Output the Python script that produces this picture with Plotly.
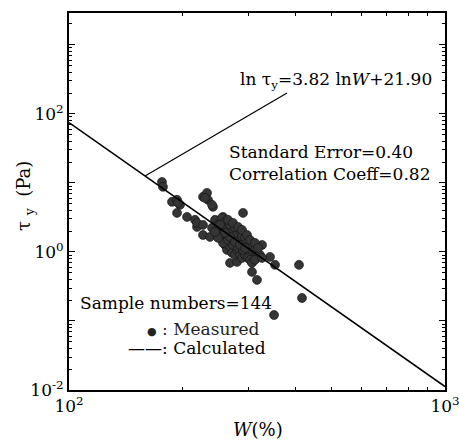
import plotly.graph_objects as go
import math

w_meas = [176.7, 177.8, 187.9, 193.8, 197.4, 193.8, 206, 216.3, 219, 195, 219,
          227.2, 232.8, 234.3, 230, 241.5, 240.1, 227.2, 237.1, 227.2, 256.8, 290.3,
          268.1, 279.8, 306.7, 316.2, 326.1, 342.4, 353.2, 409, 416.6, 351,
          244.5, 249, 252.1, 255.2, 260, 263.2, 264.8, 268.1, 271.4, 273.1, 276.4,
          279.8, 281.6, 285, 288.6, 290.3, 293.9, 297.5, 299.3, 303, 306.7, 312.4,
          316.2, 322.1, 255.2, 260, 263.2, 268.1, 271.4, 276.4, 279.8, 285, 288.6,
          293.9, 299.3, 303, 252.1, 256.8, 264.8, 273.1, 281.6, 290.3, 268.1, 276.4,
          285, 293.9, 260, 252.1, 249, 240.1, 244.5, 306.7, 312.4, 264.8, 273.1,
          281.6, 288.6, 297.5, 303, 312.4, 318.2, 326.1]
tau_meas = [10.3, 8.75, 5.31, 5.67, 4.80, 3.67, 3.21, 2.91, 2.30, 5.13, 2.63,
            6.27, 7.16, 5.67, 6.06, 4.49, 4.80, 1.76, 1.65, 2.46, 3.21, 3.67,
            0.693, 0.716, 0.513, 0.393, 1.26, 0.847, 0.649, 0.649, 0.215, 0.122,
            2.91, 2.46, 2.08, 3.11, 2.72, 2.23, 1.76, 2.46, 1.95, 1.49, 2.23,
            1.76, 1.40, 2.08, 1.65, 1.26, 1.60, 1.35, 1.07, 1.26, 0.968, 1.07,
            0.847, 0.906, 1.49, 1.26, 1.07, 1.18, 0.968, 0.906, 1.07, 0.906, 0.818,
            0.906, 0.818, 0.766, 1.76, 1.35, 1.49, 1.26, 1.14, 1.07, 1.65, 1.40,
            1.26, 1.14, 1.89, 2.46, 1.60, 2.23, 1.95, 0.693, 0.766, 2.91, 2.63,
            2.30, 2.08, 1.76, 1.49, 1.35, 1.14, 0.818]

# Calculated line: ln tau = -3.82 ln W + 21.90 (end points)
w_calc = [100, 1000]
tau_calc = [74.5, 0.0112]

x_tickvals = [100, 1000]
x_ticktext = ["10<sup>2</sup>", "10<sup>3</sup>"]
y_tickvals = [0.01, 1, 100]
y_ticktext = ["10<sup>-2</sup>", "10<sup>0</sup>", "10<sup>2</sup>"]
y_unlabeled = [0.1, 10, 1000]
x_minor = [200, 300, 400, 500, 600, 700, 800, 900]
y_minor = [m * 10 ** e for e in range(-2, 4) for m in range(2, 10) if m * 10 ** e < 2800]

FONT = "DejaVu Serif"
X_RANGE = [2, 3]
Y_RANGE = [-2, 3.46]

fig = go.Figure()
fig.add_trace(go.Scatter(x=w_meas, y=tau_meas, mode="markers", name="Measured",
                         marker=dict(size=9, color="#353535",
                                     line=dict(color="#111111", width=0.6)),
                         showlegend=False))
fig.add_trace(go.Scatter(x=w_calc, y=tau_calc, mode="lines", name="Calculated",
                         line=dict(color="black", width=1.6), showlegend=False))
# carriers for the extra tick axes
for xa, ya in (("x2", "y2"), ("x2", "y3")):
    fig.add_trace(go.Scatter(x=w_calc[:1], y=tau_calc[:1], xaxis=xa, yaxis=ya,
                             mode="markers", marker=dict(opacity=0), hoverinfo="skip",
                             showlegend=False))

axis_common = dict(showline=True, linecolor="black", linewidth=2, mirror="ticks",
                   ticks="inside", ticklen=6, tickcolor="black", tickwidth=1.2,
                   showgrid=False, zeroline=False, ticklabeloverflow="allow",
                   automargin=False,
                   tickfont=dict(family=FONT, size=17, color="black"))
minor_common = dict(showticklabels=False, ticks="inside", ticklen=3, tickcolor="black",
                    showline=True, linecolor="black", linewidth=2, mirror="ticks",
                    showgrid=False, zeroline=False, automargin=False)

fig.update_layout(
    xaxis=dict(type="log", range=X_RANGE, tickvals=x_tickvals, ticktext=x_ticktext,
               **axis_common),
    yaxis=dict(type="log", range=Y_RANGE, tickvals=y_tickvals, ticktext=y_ticktext,
               **axis_common),
    xaxis2=dict(type="log", range=X_RANGE, overlaying="x", tickvals=x_minor, **minor_common),
    yaxis2=dict(type="log", range=Y_RANGE, overlaying="y", tickvals=y_minor, **minor_common),
    yaxis3=dict(type="log", range=Y_RANGE, overlaying="y", tickvals=y_unlabeled,
                **{**minor_common, "ticklen": 6, "tickwidth": 1.2}),
)

# axis titles
fig.add_annotation(xref="paper", yref="paper", x=(258 - 69) / 376, y=(390 - 430) / 377,
                   xanchor="center", yanchor="middle", showarrow=False,
                   text="<i>W</i>(%)", font=dict(family=FONT, size=18, color="black"))
fig.add_annotation(xref="paper", yref="paper", x=(25 - 69) / 376, y=(390 - 196) / 377,
                   xanchor="center", yanchor="middle", showarrow=False, textangle=-90,
                   text="τ <sub>y</sub>  (Pa)", font=dict(family=FONT, size=18, color="black"))

# callout leader line (from the fitted line up to the equation)
wx = 159.3
ty = math.exp(21.90 - 3.82 * math.log(wx))
px0 = (math.log10(wx) - X_RANGE[0]) / (X_RANGE[1] - X_RANGE[0])
py0 = (math.log10(ty) - Y_RANGE[0]) / (Y_RANGE[1] - Y_RANGE[0])
fig.add_shape(type="line", xref="paper", yref="paper", x0=px0, y0=py0,
              x1=px0 + 142 / 376, y1=py0 + 83 / 377,
              line=dict(color="black", width=1.2))
fig.add_annotation(xref="paper", yref="paper", x=(434 - 69) / 376, y=(390 - 80) / 377,
                   xanchor="right", yanchor="middle", showarrow=False,
                   text="ln τ<sub>y</sub>=3.82 ln<i>W</i>+21.90",
                   font=dict(family=FONT, size=17, color="black"))
fig.add_annotation(xref="paper", yref="paper", x=(227 - 69) / 376, y=(390 - 163) / 377,
                   xanchor="left", yanchor="middle", showarrow=False, align="left",
                   text="Standard Error=0.40<br>Correlation Coeff=0.82",
                   font=dict(family=FONT, size=17, color="black"))
fig.add_annotation(xref="paper", yref="paper", x=(78 - 69) / 376, y=(390 - 303) / 377,
                   xanchor="left", yanchor="middle", showarrow=False,
                   text="Sample numbers=144",
                   font=dict(family=FONT, size=17, color="black"))
# legend (as text)
fig.add_annotation(xref="paper", yref="paper", x=(262 - 69) / 376, y=(390 - 329) / 377,
                   xanchor="right", yanchor="middle", showarrow=False,
                   text="<span style='font-size:11px'>●</span> : Measured",
                   font=dict(family=FONT, size=17, color="#222222"))
fig.add_annotation(xref="paper", yref="paper", x=(268 - 69) / 376, y=(390 - 348) / 377,
                   xanchor="right", yanchor="middle", showarrow=False,
                   text="——: Calculated",
                   font=dict(family=FONT, size=17, color="black"))

fig.update_layout(
    width=459, height=440,
    margin=dict(l=69, r=14, t=13, b=50, autoexpand=False),
    paper_bgcolor="white", plot_bgcolor="white",
    showlegend=False,
)

fig.write_html("out.html")
